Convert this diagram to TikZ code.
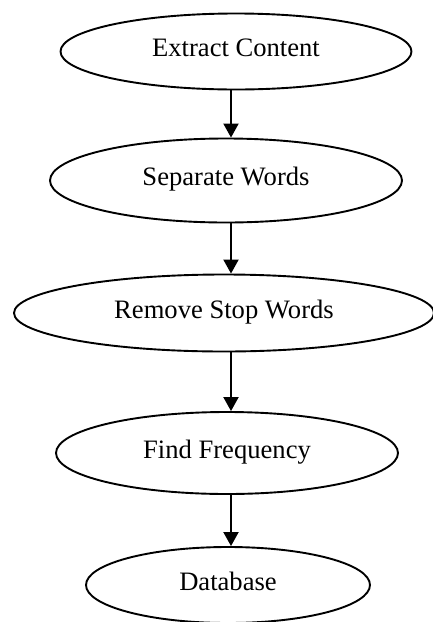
\documentclass[tikz,border=0pt]{standalone}
\usepackage{fontspec}
\setmainfont{Liberation Serif}
\usetikzlibrary{shapes.geometric,arrows.meta}
\tikzset{
  stage/.style={draw=black, line width=1.9pt, ellipse, inner sep=0pt, text height=18pt, text depth=8pt, font=\fontsize{26.6}{30}\selectfont},
  flow/.style={draw=black, line width=2pt, -{Triangle[length=14pt,width=15pt]}}
}
\begin{document}
\begin{tikzpicture}[x=1pt,y=-1pt]
\useasboundingbox (0,0) rectangle (432,622);
\node[stage, minimum width=351pt, minimum height=76pt] (e1) at (236,51.5) {Extract Content};
\node[stage, minimum width=352pt, minimum height=84pt] (e2) at (226,180.5) {Separate Words};
\node[stage, minimum width=420pt, minimum height=77pt] (e3) at (224,313) {Remove Stop Words};
\node[stage, minimum width=342pt, minimum height=82pt] (e4) at (227,453) {Find Frequency};
\node[stage, minimum width=284pt, minimum height=76pt] (e5) at (228,585) {Database};
\coordinate (ax) at (231,0);
\draw[flow] (e1.south -| ax) -- (e2.north -| ax);
\draw[flow] (e2.south -| ax) -- (e3.north -| ax);
\draw[flow] (e3.south -| ax) -- (e4.north -| ax);
\draw[flow] (e4.south -| ax) -- (e5.north -| ax);
\end{tikzpicture}
\end{document}
